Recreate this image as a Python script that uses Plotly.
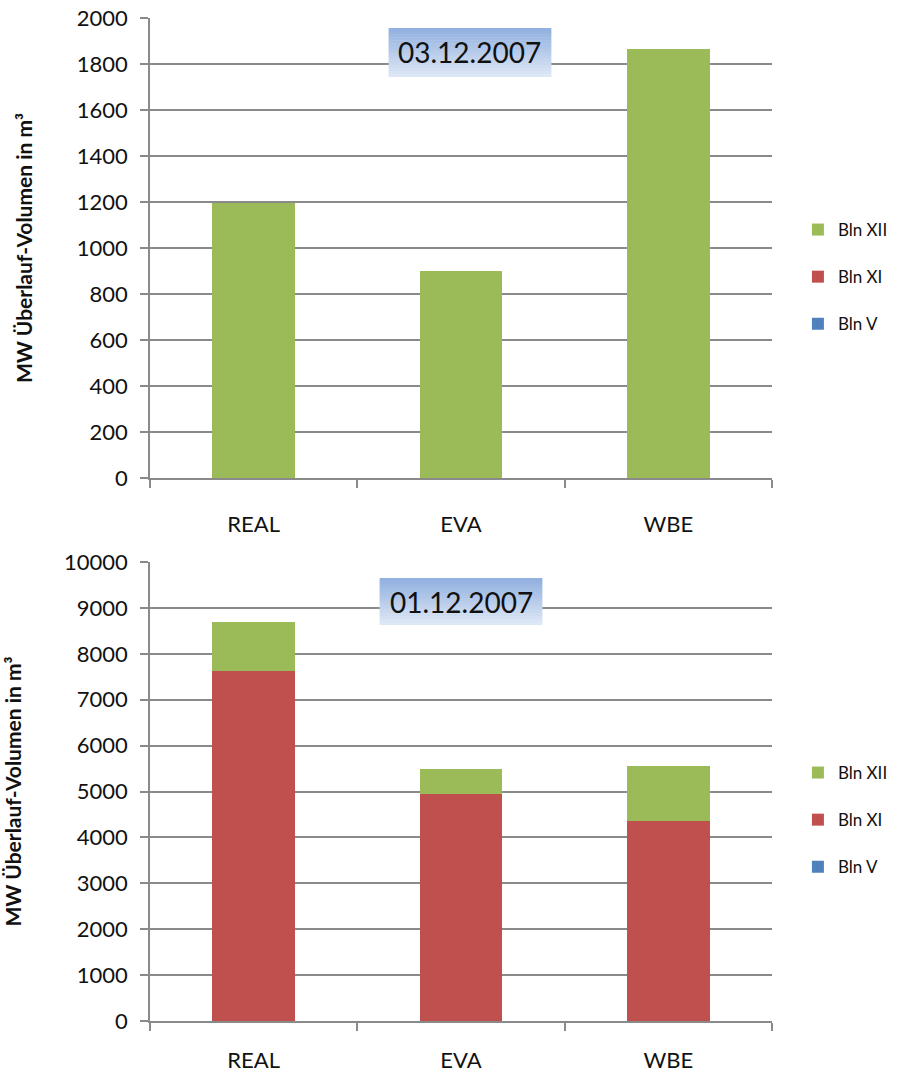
import plotly.graph_objects as go

# Data
categories = ["REAL", "EVA", "WBE"]

top_date = "03.12.2007"
top_bln_v = [0, 0, 0]
top_bln_xi = [0, 0, 0]
top_bln_xii = [1195, 900, 1865]

bottom_date = "01.12.2007"
bottom_bln_v = [0, 0, 0]
bottom_bln_xi = [7630, 4935, 4365]
bottom_bln_xii = [1060, 565, 1185]

series_names = ["Bln V", "Bln XI", "Bln XII"]
series_colors = ["#4f81bd", "#c0504d", "#9bbb59"]
legend_ranks = [3, 2, 1]

W, H = 904, 1074
M_L, M_R, M_T, M_B = 150, 131, 18, 53
PH = H - M_T - M_B
PW = W - M_L - M_R
FONT = "Lato"
GRID = "#8a8a8a"


def py(pix):
    # pixel row -> paper y
    return 1 - (pix - M_T) / PH


def px(pix):
    return (pix - M_L) / PW


fig = go.Figure()

panels = [
    ([top_bln_v, top_bln_xi, top_bln_xii], "x", "y", "legend"),
    ([bottom_bln_v, bottom_bln_xi, bottom_bln_xii], "x2", "y2", "legend2"),
]

for vals, xa, ya, leg in panels:
    for name, color, rank, v in zip(series_names, series_colors, legend_ranks, vals):
        fig.add_trace(go.Bar(x=categories, y=v, name=name, marker_color=color,
                             marker_line_width=0, xaxis=xa, yaxis=ya, legend=leg,
                             legendgroup=leg + name, legendrank=rank))

axis_common = dict(showline=True, linecolor=GRID, linewidth=1.5, automargin=False,
                   ticks="outside", tickcolor=GRID, ticklen=8, tickwidth=1.5,
                   tickfont=dict(family=FONT, size=22, color="#111"))

title_font = dict(family=FONT, size=21, color="#111", weight="bold")
ytitle = "MW Überlauf-Volumen in m³"

legend_common = dict(x=1.04, xanchor="left", yanchor="middle",
                     traceorder="grouped", tracegroupgap=22,
                     font=dict(family=FONT, size=17, color="#111"), itemwidth=30)

fig.update_layout(
    width=W, height=H,
    margin=dict(l=M_L, r=M_R, t=M_T, b=M_B),
    paper_bgcolor="white", plot_bgcolor="white",
    barmode="stack", bargap=0.6,
    xaxis=dict(domain=[0, 1], anchor="y", tickson="boundaries",
               ticklabelstandoff=26, **axis_common),
    yaxis=dict(domain=[py(478), 1], anchor="x", range=[0, 2000], dtick=200,
               showgrid=True, gridcolor=GRID, gridwidth=1.5, zeroline=False,
               ticklabelstandoff=8,
               title=dict(text=ytitle, font=title_font, standoff=38),
               **axis_common),
    xaxis2=dict(domain=[0, 1], anchor="y2", tickson="boundaries",
                ticklabelstandoff=19, **axis_common),
    yaxis2=dict(domain=[0, py(562)], anchor="x2", range=[0, 10000], dtick=1000,
                tickformat="d", ticklabelstandoff=8,
                showgrid=True, gridcolor=GRID, gridwidth=1.5, zeroline=False,
                title=dict(text=ytitle, font=title_font, standoff=38),
                **axis_common),
    legend=dict(y=py(277), **legend_common),
    legend2=dict(y=py(820), **legend_common),
)

# gradient date boxes
def date_box(text, x0, x1, y0, y1):
    n = 16
    c_top = (146, 177, 224)
    c_bot = (222, 231, 245)
    for i in range(n):
        t = i / (n - 1)
        c = tuple(int(a + (b - a) * t) for a, b in zip(c_top, c_bot))
        ya = y0 + (y1 - y0) * i / n
        yb = y0 + (y1 - y0) * (i + 1) / n
        fig.add_shape(type="rect", xref="paper", yref="paper",
                      x0=px(x0), x1=px(x1), y0=py(ya), y1=py(min(yb + 0.5, y1)),
                      fillcolor="rgb(%d,%d,%d)" % c, line_width=0, layer="above")
    fig.add_annotation(x=px((x0 + x1) / 2), y=py((y0 + y1) / 2), xref="paper", yref="paper",
                       xanchor="center", yanchor="middle",
                       text=text, showarrow=False,
                       font=dict(family=FONT, size=28, color="#111"))

date_box(top_date, 389, 552, 28, 77)
date_box(bottom_date, 380, 543, 578, 625)

fig.write_html("out.html", config={"displayModeBar": False},
               post_script="document.body.style.margin='0';")
